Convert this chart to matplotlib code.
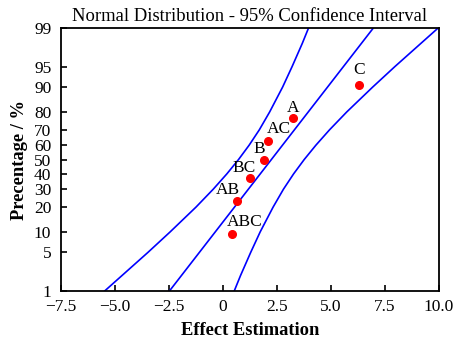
import math
import numpy as np
import matplotlib as mpl
mpl.use("Agg")
from matplotlib import pyplot as plt

# effects (x) and their plotted cumulative percentages
labels = ["ABC", "AB", "BC", "B", "AC", "A", "C"]
effects = [0.43, 0.65, 1.25, 1.90, 2.10, 3.23, 6.31]
percent = [9.5, 23.3, 37.0, 50.0, 63.0, 76.8, 90.5]
# label offsets in pixels (dx, dy), label centre relative to point
label_off = [(12, 12), (-9, 11), (-6, 10), (-5, 11), (11, 12), (0, 10), (0, 15)]

# fitted line and 95% band, read at these percentages
band_pct = [1, 2, 5, 10, 20, 30, 40, 50, 60, 70, 80, 90, 95, 98, 99]
band_low = [-5.48, -4.68, -3.48, -2.45, -1.25, -0.45, 0.18, 0.72, 1.21, 1.68, 2.16, 2.76, 3.20, 3.67, 3.96]
band_high = [0.52, 0.81, 1.28, 1.72, 2.32, 2.80, 3.27, 3.76, 4.30, 4.93, 5.73, 6.93, 7.96, 9.16, 9.96]
fit_pct = [1, 50, 99]
fit_x = [-2.48, 2.24, 6.96]

yticks = [1, 5, 10, 20, 30, 40, 50, 60, 70, 80, 90, 95, 99]
xticks = [-7.5, -5.0, -2.5, 0, 2.5, 5.0, 7.5, 10.0]
xticklabels = ["\u22127.5", "\u22125.0", "\u22122.5", "0", "2.5", "5.0", "7.5", "10.0"]


def _ppf(p):
    # Acklam's inverse normal approximation
    a = [-3.969683028665376e+01, 2.209460984245205e+02, -2.759285104469687e+02,
         1.383577518672690e+02, -3.066479806614716e+01, 2.506628277459239e+00]
    b = [-5.447609879822406e+01, 1.615858368580409e+02, -1.556989798598866e+02,
         6.680131188771972e+01, -1.328068155288572e+01]
    c = [-7.784894002430293e-03, -3.223964580411365e-01, -2.400758277161838e+00,
         -2.549732539343734e+00, 4.374664141464968e+00, 2.938163982698783e+00]
    d = [7.784695709041462e-03, 3.224671290700398e-01, 2.445134137142996e+00,
         3.754408661907416e+00]
    plow = 0.02425
    if p < plow:
        q = math.sqrt(-2 * math.log(p))
        return (((((c[0]*q+c[1])*q+c[2])*q+c[3])*q+c[4])*q+c[5]) / \
               ((((d[0]*q+d[1])*q+d[2])*q+d[3])*q+1)
    if p > 1 - plow:
        q = math.sqrt(-2 * math.log(1 - p))
        return -(((((c[0]*q+c[1])*q+c[2])*q+c[3])*q+c[4])*q+c[5]) / \
                ((((d[0]*q+d[1])*q+d[2])*q+d[3])*q+1)
    q = p - 0.5
    r = q * q
    return (((((a[0]*r+a[1])*r+a[2])*r+a[3])*r+a[4])*r+a[5])*q / \
           (((((b[0]*r+b[1])*r+b[2])*r+b[3])*r+b[4])*r+1)


_vppf = np.vectorize(lambda v: _ppf(v / 100.0), otypes=[float])
_vcdf = np.vectorize(lambda v: 50.0 * (1 + math.erf(v / math.sqrt(2))), otypes=[float])


def forward(y):
    y = np.clip(np.asarray(y, dtype=float), 1e-9, 100 - 1e-9)
    return _vppf(y)


def inverse(z):
    return _vcdf(np.asarray(z, dtype=float))


plt.rcParams["font.family"] = ["Liberation Serif", "DejaVu Serif"]
plt.rcParams["font.size"] = 12.5

fig = plt.figure(figsize=(4.57, 3.40), dpi=100)
ax = fig.add_axes([0.1335, 0.1441, 0.8271, 0.7735])
ax.set_yscale("function", functions=(forward, inverse))

ax.plot(band_low, band_pct, color="#0000ff", lw=1.2)
ax.plot(band_high, band_pct, color="#0000ff", lw=1.2)
ax.plot(fit_x, fit_pct, color="#0000ff", lw=1.2)
ax.plot(effects, percent, "o", color="#ff0000", ms=5.5, zorder=5)

for lab, x, y, (dx, dy) in zip(labels, effects, percent, label_off):
    ax.annotate(lab, (x, y), xytext=(dx * 0.72, dy * 0.72), textcoords="offset points",
                ha="center", va="center", fontsize=12.5)

ax.set_xlim(-7.5, 10.0)
ax.set_ylim(1, 99)
ax.set_xticks(xticks)
ax.set_xticklabels(xticklabels)
ax.set_yticks(yticks)
ax.set_yticklabels([str(t) for t in yticks])
ax.yaxis.set_minor_locator(mpl.ticker.NullLocator())
ax.tick_params(direction="in", length=4, width=1.2, top=False, right=False)
ax.tick_params(axis="x", pad=6)
ax.tick_params(axis="y", pad=7)
for s in ax.spines.values():
    s.set_linewidth(1.3)

ax.set_title("Normal Distribution - 95% Confidence Interval", fontsize=13.4, pad=5)
ax.set_xlabel("Effect Estimation", fontweight="bold", fontsize=13.3, labelpad=5)
ax.set_ylabel("Precentage / %", fontweight="bold", fontsize=13.3, labelpad=4)

fig.savefig("out.png", dpi=100)
